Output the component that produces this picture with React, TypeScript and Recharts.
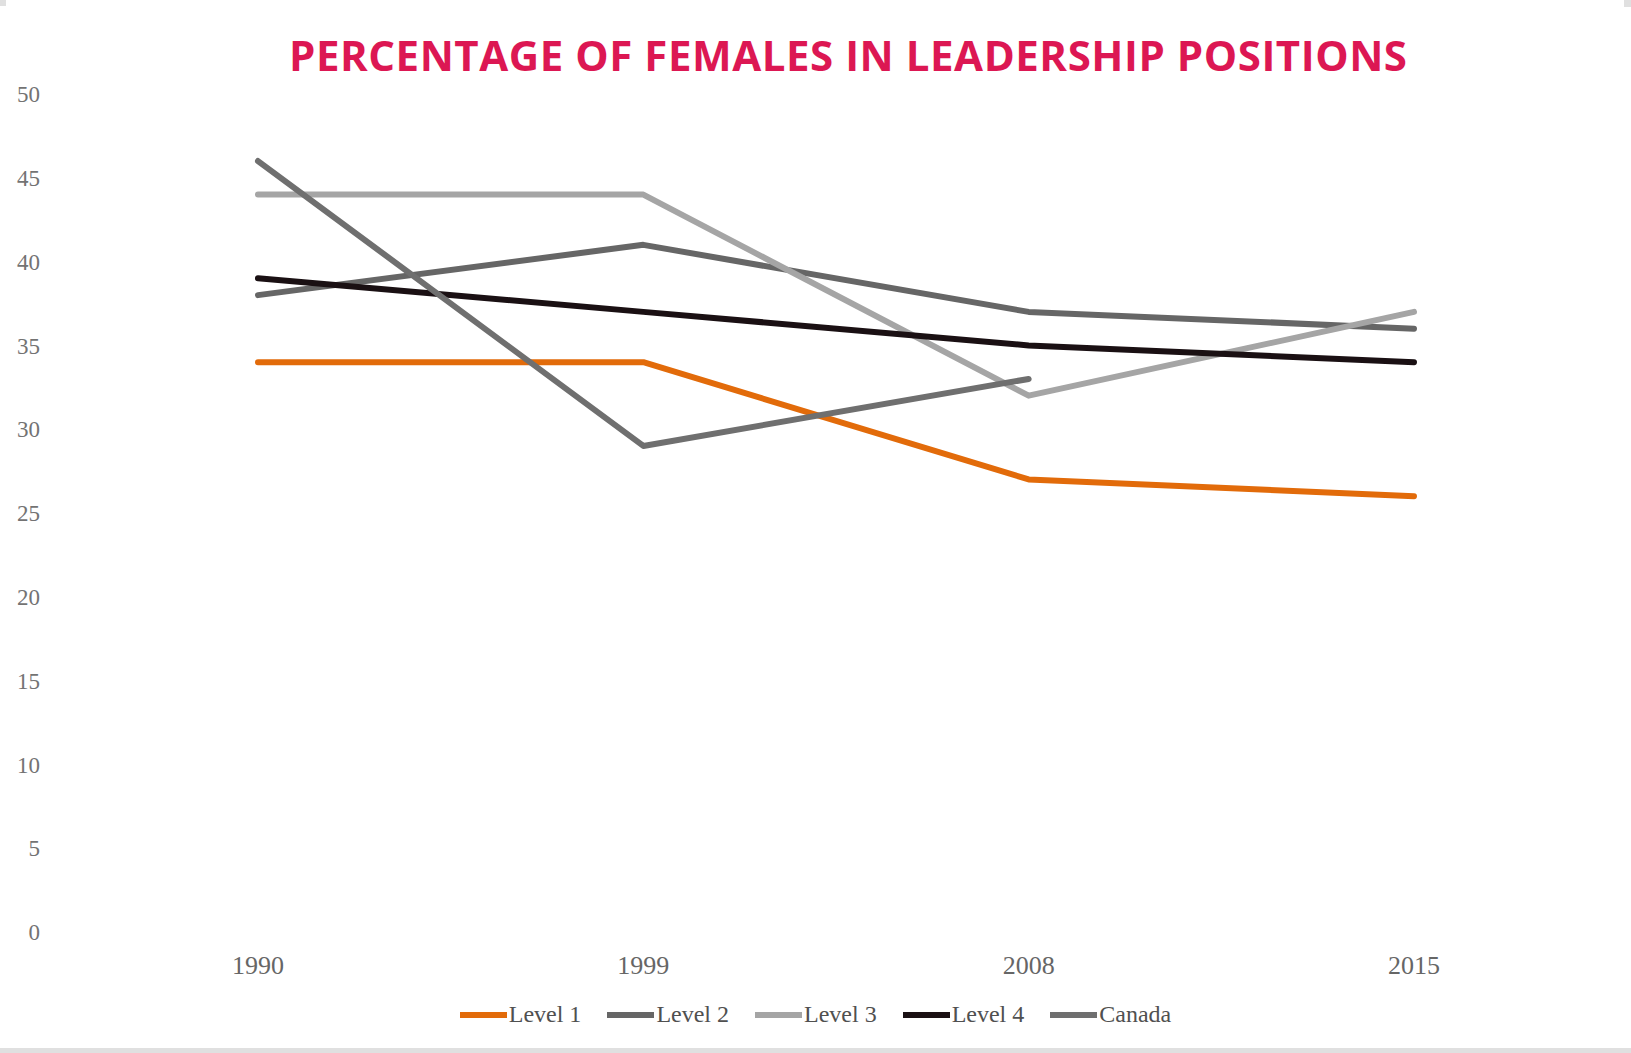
import React from "react";
import { LineChart, Line, XAxis, YAxis, Legend } from "recharts";

const years = ["1990", "1999", "2008", "2015"];
const level1 = [34, 34, 27, 26];
const level2 = [38, 41, 37, 36];
const level3 = [44, 44, 32, 37];
const level4 = [39, 37, 35, 34];
const canada: (number | null)[] = [46, 29, 33, null];
const yTicks = [0, 5, 10, 15, 20, 25, 30, 35, 40, 45, 50];

const seriesNames = ["Level 1", "Level 2", "Level 3", "Level 4", "Canada"];
const seriesColors = ["#e26b0a", "#666666", "#a5a5a5", "#1a1013", "#6f6f6f"];
const seriesValues = [level1, level2, level3, level4, canada];

const data = years.map((year, i) => {
  const row: Record<string, string | number | null> = { year };
  seriesNames.forEach((name, s) => {
    row[name] = seriesValues[s][i];
  });
  return row;
});

const W = 1631;
const H = 1053;

const LegendContent = () => (
  <div
    style={{
      display: "flex",
      justifyContent: "center",
      alignItems: "center",
      width: W,
      fontFamily: "'Liberation Serif', serif",
      fontSize: 24,
      color: "#505050",
    }}
  >
    {seriesNames.map((name, i) => (
      <div
        key={name}
        style={{ display: "flex", alignItems: "center", marginRight: i < seriesNames.length - 1 ? 26 : 0 }}
      >
        <div style={{ width: 47, height: 6, background: seriesColors[i], marginRight: 2 }} />
        <span>{name}</span>
      </div>
    ))}
  </div>
);

export default function App() {
  return (
    <div style={{ position: "absolute", left: 0, top: 0, width: W, height: H, background: "#ffffff", overflow: "hidden" }}>
      <svg style={{ position: "absolute", left: 0, top: 0 }} width={W} height={100}>
        <text
          x={848}
          y={71}
          textAnchor="middle"
          fontFamily="'Open Sans', sans-serif"
          fontWeight={700}
          fontSize={42}
          fill="#dc1753"
          textLength={1118}
          lengthAdjust="spacing"
        >
          PERCENTAGE OF FEMALES IN LEADERSHIP POSITIONS
        </text>
      </svg>
      <div style={{ position: "absolute", left: 0, top: 0 }}>
        <LineChart width={W} height={H} data={data} margin={{ top: 94, right: 24, left: 0, bottom: 61 }}>
          <XAxis
            dataKey="year"
            axisLine={false}
            tickLine={false}
            tickSize={0}
            tickMargin={24}
            height={60}
            padding={{ left: 193, right: 193 }}
            tick={{ fill: "#666666", fontSize: 26, fontFamily: "'Liberation Serif', serif" }}
          />
          <YAxis
            domain={[0, 50]}
            ticks={yTicks}
            axisLine={false}
            tickLine={false}
            tickSize={0}
            tickMargin={25}
            width={65}
            interval={0}
            tick={{ fill: "#737373", fontSize: 23, fontFamily: "'Liberation Serif', serif" }}
          />
          <Legend
            verticalAlign="middle"
            align="center"
            layout="horizontal"
            wrapperStyle={{ top: 1001, left: 0, width: W }}
            content={<LegendContent />}
          />
          {seriesNames.map((name, i) => (
            <Line
              key={name}
              type="linear"
              dataKey={name}
              stroke={seriesColors[i]}
              strokeWidth={6}
              strokeLinejoin="round"
              strokeLinecap="round"
              dot={false}
              activeDot={false}
              isAnimationActive={false}
            />
          ))}
        </LineChart>
      </div>
      <div style={{ position: "absolute", left: 0, top: 1048, width: W, height: 5, background: "#e0e0e0" }} />
      <div style={{ position: "absolute", left: 0, top: 0, width: 6, height: 6, background: "#e0e0e0" }} />
      <div style={{ position: "absolute", left: 1624, top: 0, width: 7, height: 7, background: "#e0e0e0" }} />
    </div>
  );
}
